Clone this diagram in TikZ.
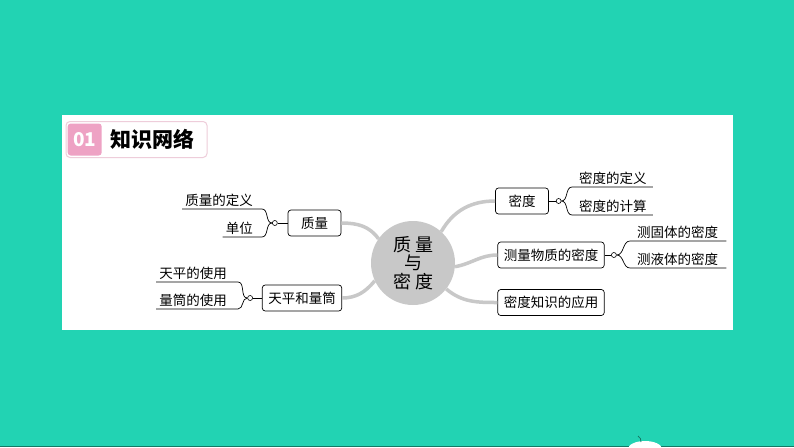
\documentclass[tikz,border=0pt]{standalone}
\usepackage{fontspec}
\newfontfamily\cjk{Noto Sans CJK SC}
\usetikzlibrary{positioning}
\definecolor{bgteal}{RGB}{34,211,179}
\definecolor{edgeteal}{RGB}{20,120,100}
\definecolor{tabpink}{RGB}{238,162,196}
\definecolor{tabline}{RGB}{238,205,218}
\definecolor{hubgray}{RGB}{200,200,200}
\tikzset{
  topic/.style={draw, rounded corners=3pt, line width=0.7pt, minimum height=26pt,
    minimum width=53pt, inner xsep=6pt, font=\cjk\fontsize{13.5}{14}\selectfont},
  leaf/.style={inner xsep=3pt, inner ysep=2pt, font=\cjk\fontsize{13.5}{14}\selectfont},
  joint/.style={circle, draw, fill=white, inner sep=0pt, minimum size=5pt, line width=0.6pt},
  branch/.style={draw=hubgray, line width=3.5pt},
  twig/.style={line width=0.7pt}
}
\begin{document}
\begin{tikzpicture}[x=1pt, y=-1pt]
  \useasboundingbox (0,0) rectangle (794,447);
  \fill[bgteal] (0,0) rectangle (794,447);
  \fill[edgeteal] (0,445.8) rectangle (794,447);
  \fill[white] (62,115) rectangle (733,330);
  % title tab
  \node[draw=tabline, line width=1pt, rounded corners=4pt, fill=white, minimum width=141pt,
    minimum height=36pt, anchor=west] (tab) at (65.5,139.5) {};
  \node[fill=tabpink, rounded corners=3pt, minimum width=34pt, minimum height=32pt,
    anchor=west, text=white, font=\cjk\bfseries\fontsize{19}{19}\selectfont] (num) at (67.5,139.5) {01};
  \node[right=5pt of num, font=\cjk\bfseries\fontsize{21}{21}\selectfont] (ttl) {知识网络};
  % hub
  \node[circle, fill=hubgray, minimum size=84pt, inner sep=0pt, align=center,
    font=\cjk\fontsize{18}{18.5}\selectfont] (hub) at (413,263)
    {质\hspace{4pt}量\\与\\密\hspace{4pt}度};
  % topics
  \node[topic] (zl) at (314.5,223) {质量};
  \node[topic] (tp) at (302,298) {天平和量筒};
  \node[topic] (md) at (522,201) {密度};
  \node[topic] (cl) at (551,255) {测量物质的密度};
  \node[topic] (yy) at (551,302.5) {密度知识的应用};
  \draw[branch] (zl.east) to[out=0, in=125] (hub.145);
  \draw[branch] (tp.east) to[out=0, in=230] (hub.205);
  \draw[branch] (md.west) to[out=180, in=60] (hub.48);
  \draw[branch] (cl.west) to[out=180, in=10] (hub.-5);
  \draw[branch] (yy.west) to[out=180, in=-40] (hub.-38);
  % joints
  \node[joint, left=10pt of zl] (jz) {};
  \node[joint, left=9pt of tp] (jt) {};
  \node[joint, right=7pt of md] (jm) {};
  \node[joint, right=6.5pt of cl] (jc) {};
  \draw[twig] (jz) -- (zl);
  \draw[twig] (jt) -- (tp);
  \draw[twig] (md) -- (jm);
  \draw[twig] (cl) -- (jc);
  % leaves
  \node[leaf, anchor=south east] (a1) at (256,209) {质量的定义};
  \node[leaf, anchor=south east] (a2) at (256,237) {单位};
  \node[leaf, anchor=south east] (b1) at (230,282) {天平的使用};
  \node[leaf, anchor=south east] (b2) at (230,309) {量筒的使用};
  \node[leaf, anchor=south west] (c1) at (576,187) {密度的定义};
  \node[leaf, anchor=south west] (c2) at (576,215) {密度的计算};
  \node[leaf, anchor=south west] (d1) at (634,241) {测固体的密度};
  \node[leaf, anchor=south west] (d2) at (634,268) {测液体的密度};
  \draw[twig] (a1.south west) -- ([xshift=6pt]a1.south east) to[out=0, in=180] (jz.west);
  \draw[twig] (a2.south west) -- ([xshift=6pt]a2.south east) to[out=0, in=180] (jz.west);
  \draw[twig] (b1.south west) -- ([xshift=8pt]b1.south east) to[out=0, in=180] (jt.west);
  \draw[twig] (b2.south west) -- ([xshift=8pt]b2.south east) to[out=0, in=180] (jt.west);
  \draw[twig] (jm.east) to[out=0, in=180] ([xshift=-4pt]c1.south west) -- ([xshift=3pt]c1.south east);
  \draw[twig] (jm.east) to[out=0, in=180] ([xshift=-4pt]c2.south west) -- ([xshift=3pt]c2.south east);
  \draw[twig] (jc.east) to[out=0, in=180] ([xshift=-4pt]d1.south west) -- ([xshift=5pt]d1.south east);
  \draw[twig] (jc.east) to[out=0, in=180] ([xshift=-4pt]d2.south west) -- ([xshift=5pt]d2.south east);
  % bottom ornament
  \fill[white] (645,449) ellipse [x radius=17, y radius=8];
  \draw[edgeteal, line width=0.8pt] (638,436) to[bend left=30] (641,442);
\end{tikzpicture}
\end{document}
